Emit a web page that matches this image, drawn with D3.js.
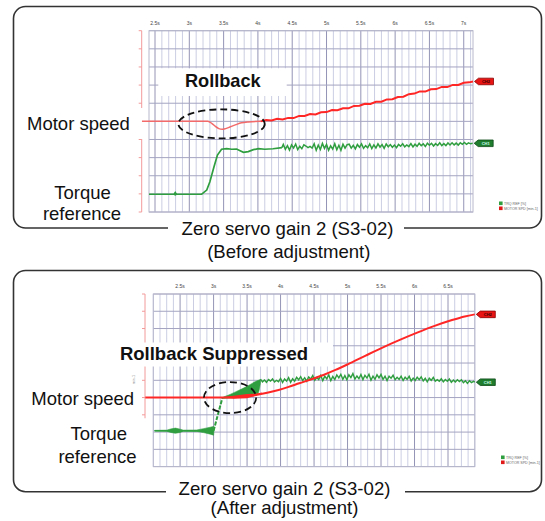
<!DOCTYPE html>
<html><head><meta charset="utf-8">
<script src="https://cdn.jsdelivr.net/npm/d3@7"></script>
<style>
html,body{margin:0;padding:0;background:#fff;}
svg{display:block;font-family:"Liberation Sans",Arial,Helvetica,sans-serif;}
</style></head><body>
<svg id="c" width="545" height="521"></svg>
<script>
// ---------------- DATA ----------------
const topTicks = [2.5, 3, 3.5, 4, 4.5, 5, 5.5, 6, 6.5, 7];
const topTickLabels = ["2.5s","3s","3.5s","4s","4.5s","5s","5.5s","6s","6.5s","7s"];
const botTicks = [2.5, 3, 3.5, 4, 4.5, 5, 5.5, 6, 6.5];
const botTickLabels = ["2.5s","3s","3.5s","4s","4.5s","5s","5.5s","6s","6.5s"];
const legendNames = ["TRQ REF [%]", "MOTOR SPD [min-1]"];
const tagNames = ["CH1", "CH2"];

// Before adjustment: motor speed (divisions) vs time (s)
const topSpeedFlat = [[2.31,5.0],[3.27,5.0],[3.33,4.88],[3.38,4.72],[3.43,4.60],[3.48,4.56],[3.53,4.60],
  [3.60,4.70],[3.68,4.82],[3.76,4.92],[3.86,4.97],[4.04,5.0]];
const topSpeedRise = [[4.04,5.00],[4.12,5.07],[4.20,5.05],[4.28,5.14],[4.36,5.10],[4.44,5.19],[4.52,5.18],
  [4.60,5.30],[4.68,5.30],[4.76,5.40],[4.84,5.38],[4.92,5.50],[5.00,5.51],[5.08,5.62],[5.16,5.61],
  [5.24,5.72],[5.32,5.72],[5.40,5.85],[5.48,5.86],[5.56,5.97],[5.64,5.96],[5.72,6.08],[5.80,6.08],
  [5.88,6.21],[5.96,6.22],[6.04,6.34],[6.12,6.36],[6.20,6.50],[6.28,6.53],[6.36,6.65],[6.44,6.64],
  [6.52,6.77],[6.60,6.78],[6.68,6.90],[6.76,6.89],[6.84,7.01],[6.92,7.01],[7.00,7.13],[7.08,7.15],[7.135,7.20]];
// Before adjustment: torque reference
const topTorque = [[2.4125,0.98],[2.78,0.98],[2.795,1.07],[2.81,0.98],[3.18,0.98],[3.254,1.21],[3.30,1.67],
  [3.36,2.50],[3.41,3.14],[3.47,3.46],[3.545,3.49],[3.618,3.46],[3.69,3.47],[3.74,3.38],[3.789,3.29],
  [3.86,3.33],[3.934,3.44],[4.007,3.49],[4.10,3.46],[4.22,3.49],[4.35,3.55]];
const topNoiseStart = 4.37, noiseStep = 0.03;
const topTorqueNoise = [3.73,3.46,3.66,3.41,3.70,3.53,3.75,3.44,3.62,3.49,3.71,
  3.64,3.55,3.62,3.53,
  3.76,3.40,3.69,3.45,3.78,3.51,3.73,3.41,3.65,3.47,3.77,3.43,3.68,3.40,3.74,3.52,3.71,
  3.74,3.52,3.68,3.48,3.72,3.57,3.76,3.51,3.66,3.54,3.75,3.50,3.70,3.53,3.76,3.58,3.72,3.51,3.75,3.60,
  3.72,3.57,3.69,3.55,3.73,3.63,3.76,3.59,3.70,3.61,3.77,3.59,3.74,3.62,3.79,3.66,3.76,3.61,3.79,3.68,
  3.79,3.64,3.77,3.67,3.82,3.66,3.77,3.66,3.81,3.70,3.82,3.70,3.80,3.69,3.82,3.73,3.83,3.73,3.81,3.76,3.79];

// After adjustment: motor speed
const botSpeed = [[1.98,4.0],[3.1,4.0],[3.3,4.02],[3.5,4.08],[3.63,4.15],[3.8,4.28],[3.97,4.44],[4.12,4.62],
  [4.28,4.83],[4.46,5.06],[4.64,5.31],[4.82,5.6],[5.01,5.94],[5.27,6.43],[5.53,6.91],[5.78,7.34],
  [6.04,7.76],[6.3,8.15],[6.56,8.49],[6.75,8.7],[6.9,8.82]];
const botSpeedBand = [[3.1,4.0,4.0],[3.3,3.93,4.1],[3.5,3.96,4.2],[3.63,4.1,4.22],[3.72,4.25,4.3]];
// After adjustment: torque reference [t, low, high]
const botTorqueFlat = [[2.12,2.06,2.10],[2.3,2.05,2.11],[2.36,1.98,2.18],[2.43,1.93,2.23],[2.5,1.98,2.17],
  [2.55,2.05,2.11],[2.75,2.04,2.12],[2.85,1.97,2.20],[2.95,1.88,2.28],[3.0,1.82,2.33],[3.005,2.06,2.10]];
const botTorqueJump = [[3.0,2.08],[3.13,3.96]];
const botTorqueWedge = [[3.13,3.95,4.0],[3.246,3.98,4.18],[3.366,4.02,4.4],[3.485,4.06,4.62],
  [3.575,4.1,4.82],[3.634,4.14,4.95],[3.67,4.3,5.0],[3.70,4.85,5.04]];
const botNoiseStart = 3.70;
const botTorqueNoise = [5.07,4.91,5.02,4.88,5.04,4.95,5.08,4.90,5.00,4.92,
  5.11,4.87,5.08,4.95,5.16,4.88,5.09,4.95,5.17,5.03,
  5.21,4.98,5.15,4.95,5.19,5.07,5.27,5.00,5.16,5.04,
  5.28,4.98,5.24,5.08,5.32,4.98,5.22,5.04,5.31,5.14,
  5.35,5.06,5.27,5.03,5.32,5.16,5.39,5.07,5.25,5.09,
  5.34,5.04,5.29,5.13,5.35,5.01,5.24,5.06,5.32,5.14,
  5.34,5.05,5.24,4.99,5.24,5.12,5.29,5.03,5.17,5.05,
  5.24,4.99,5.18,5.05,5.23,4.96,5.13,4.99,5.18,5.04,
  5.20,4.96,5.12,4.91,5.12,5.00,5.17,4.95,5.04,4.95,
  5.09,4.91,5.05,4.95,5.08,4.88,5.01,4.90,5.03,4.93,
  5.03,4.86,4.97,4.82,4.97,4.87,4.94];
const botTorqueEnd = [6.9, 4.89];

// ---------------- DRAWING ----------------
const svg = d3.select("#c");
const RED = "#ff2626", PINK = "#f26a6a", GREEN = "#2f9e3f";

function panel(p) {
  const x = d3.scaleLinear().domain(p.tDomain).range([p.left, p.right]);
  const y = d3.scaleLinear().domain([0, 10]).range([p.bottom, p.top]);
  const g = svg.append("g");

  g.append("rect").attr("x", 13.5).attr("y", p.boxTop).attr("width", 528).attr("height", p.boxBottom - p.boxTop)
    .attr("rx", 12).attr("fill", "none").attr("stroke", "#333").attr("stroke-width", 1.6);

  const minor = d3.range(Math.ceil(p.tDomain[0] * 10), Math.floor(p.tDomain[1] * 10) + 1).map(d => d / 10)
    .filter(t => Math.abs(t * 2 - Math.round(t * 2)) > 1e-6);
  g.selectAll(null).data(minor).join("line")
    .attr("x1", d => x(d)).attr("x2", d => x(d)).attr("y1", p.top).attr("y2", p.bottom)
    .attr("stroke", "#cbcee3").attr("stroke-width", 1);
  g.selectAll(null).data(p.ticks).join("line")
    .attr("x1", d => x(d)).attr("x2", d => x(d)).attr("y1", p.top).attr("y2", p.bottom)
    .attr("stroke", "#9494b6").attr("stroke-width", 1);
  g.selectAll(null).data(d3.range(0, 11)).join("line")
    .attr("x1", p.left).attr("x2", p.right).attr("y1", d => y(d)).attr("y2", d => y(d))
    .attr("stroke", "#a4a4c2").attr("stroke-width", 1);
  g.append("rect").attr("x", p.left).attr("y", p.top).attr("width", p.right - p.left).attr("height", p.bottom - p.top)
    .attr("fill", "none").attr("stroke", "#b8b8cc").attr("stroke-width", 1);

  g.selectAll(null).data(p.ticks).join("text")
    .attr("x", d => x(d)).attr("y", p.labelY).attr("text-anchor", "middle")
    .attr("font-size", 5).attr("fill", "#444").text((d, i) => p.tickLabels[i]);

  g.append("line").attr("x1", p.axisX).attr("x2", p.axisX).attr("y1", y(10)).attr("y2", y(p.axisEnd))
    .attr("stroke", "#f39a9a").attr("stroke-width", 1);
  g.selectAll(null).data(d3.range(Math.ceil(p.axisEnd), 11)).join("line")
    .attr("x1", p.axisX - 3).attr("x2", p.axisX).attr("y1", d => y(d)).attr("y2", d => y(d))
    .attr("stroke", "#f39a9a").attr("stroke-width", 1);

  [GREEN, "#e01818"].forEach((c, i) => {
    g.append("rect").attr("x", p.legX).attr("y", p.legY + i * 5).attr("width", 3.6).attr("height", 3.6).attr("fill", c);
    g.append("text").attr("x", p.legX + 5).attr("y", p.legY + i * 5 + 3.3).attr("font-size", 3.6)
      .attr("fill", "#666").text(legendNames[i]);
  });
  return { x, y, g };
}

function tag(g, xt, yc, fill, stroke, txtFill, label) {
  g.append("path").attr("d", `M${xt},${yc} L${xt + 4},${yc - 3.3} L${xt + 19},${yc - 3.3} L${xt + 19},${yc + 3.3} L${xt + 4},${yc + 3.3} Z`)
    .attr("fill", fill).attr("stroke", stroke).attr("stroke-width", 0.8);
  g.append("text").attr("x", xt + 11.5).attr("y", yc + 1.5).attr("text-anchor", "middle").attr("font-size", 4)
    .attr("font-weight", "bold").attr("fill", txtFill).text(label);
}

function whiteBox(g, x0, y0, x1, y1) {
  g.append("rect").attr("x", x0).attr("y", y0).attr("width", x1 - x0).attr("height", y1 - y0).attr("fill", "#fff");
}
function label(g, txt, x, yb, opts = {}) {
  g.append("text").attr("x", x).attr("y", yb).attr("text-anchor", opts.anchor || "middle")
    .attr("font-size", opts.size || 18.5).attr("font-weight", opts.bold ? "bold" : "normal")
    .attr("fill", "#111").text(txt);
}

// ======== TOP PANEL (before adjustment) ========
{
  const P = panel({ tDomain: [2.4125, 7.135], left: 149, right: 473, top: 30.7, bottom: 212,
    ticks: topTicks, tickLabels: topTickLabels, labelY: 25, axisX: 141.7, axisEnd: 0,
    boxTop: 6.5, boxBottom: 228, legX: 499, legY: 201.5 });
  const { x, y, g } = P;
  whiteBox(g, 18, 108, 146, 139);
  whiteBox(g, 158.3, 68.3, 286.7, 96);
  whiteBox(g, 168, 222, 404, 262);

  const line = d3.line().x(d => x(d[0])).y(d => y(d[1]));
  g.append("path").attr("d", line(topTorque)).attr("fill", "none").attr("stroke", GREEN).attr("stroke-width", 1.7);
  g.append("circle").attr("cx", x(2.795)).attr("cy", y(0.98)).attr("r", 1.4).attr("fill", GREEN);
  const tn = topTorqueNoise.map((v, i) => [topNoiseStart + i * noiseStep, v]);
  g.append("path").attr("d", line([topTorque[topTorque.length - 1], ...tn])).attr("fill", "none")
    .attr("stroke", GREEN).attr("stroke-width", 1.5);
  g.append("path").attr("d", d3.line().x(d => x(d[0])).y(d => y(d[1])).curve(d3.curveMonotoneX)(topSpeedFlat))
    .attr("fill", "none").attr("stroke", PINK).attr("stroke-width", 1.5);
  g.append("path").attr("d", line(topSpeedRise)).attr("fill", "none").attr("stroke", RED).attr("stroke-width", 2);

  const rEnd = topSpeedRise[topSpeedRise.length - 1], gEnd = tn[tn.length - 1];
  tag(g, x(rEnd[0]) + 1.5, y(rEnd[1]), "#e81414", "#8a0000", "#300", tagNames[1]);
  tag(g, x(gEnd[0]) + 1.5, y(gEnd[1]), "#1f7d2e", "#0d4a18", "#cfe", tagNames[0]);

  g.append("ellipse").attr("cx", x(3.47)).attr("cy", y(4.86)).attr("rx", x(3.47 + 0.63) - x(3.47))
    .attr("ry", y(4.86) - y(4.86 + 0.8)).attr("fill", "none").attr("stroke", "#111")
    .attr("stroke-width", 1.8).attr("stroke-dasharray", "7,4");

  label(g, "Rollback", 222.8, 87.3, { bold: true, size: 18.2 });
  label(g, "Motor speed", 27, 130, { anchor: "start" });
  label(g, "Torque", 82.5, 199);
  label(g, "reference", 82, 219.5);
  label(g, "Zero servo gain 2 (S3-02)", 287.5, 235, { size: 18.6 });
  label(g, "(Before adjustment)", 288.8, 258, { size: 18.6 });
}

// ======== BOTTOM PANEL (after adjustment) ========
{
  const P = panel({ tDomain: [2.1, 6.9], left: 153.3, right: 474.8, top: 294, bottom: 466.6,
    ticks: botTicks, tickLabels: botTickLabels, labelY: 288, axisX: 145, axisEnd: 2.8,
    boxTop: 270.5, boxBottom: 491.7, legX: 501, legY: 455.5 });
  const { x, y, g } = P;
  whiteBox(g, 115, 342.5, 333, 366.5);
  whiteBox(g, 166, 484, 405, 521);
  g.append("text").attr("transform", "translate(135,384) rotate(-90)").attr("font-size", 3.6)
    .attr("fill", "#888").text("min-1");

  const line = d3.line().x(d => x(d[0])).y(d => y(d[1]));
  const area = d3.area().x(d => x(d[0])).y0(d => y(d[1])).y1(d => y(d[2]));
  g.append("path").attr("d", area(botTorqueFlat)).attr("fill", GREEN).attr("stroke", GREEN).attr("stroke-width", 0.6);
  g.append("path").attr("d", line(botTorqueFlat.map(d => [d[0], (d[1] + d[2]) / 2])))
    .attr("fill", "none").attr("stroke", GREEN).attr("stroke-width", 1.4);
  g.append("path").attr("d", line(botTorqueJump)).attr("fill", "none").attr("stroke", GREEN)
    .attr("stroke-width", 2).attr("stroke-dasharray", "4,1.5");
  g.append("path").attr("d", area.curve(d3.curveMonotoneX)(botTorqueWedge)).attr("fill", GREEN)
    .attr("stroke", GREEN).attr("stroke-width", 0.6);
  const bn = botTorqueNoise.map((v, i) => [botNoiseStart + i * noiseStep, v]);
  g.append("path").attr("d", line([...bn, botTorqueEnd])).attr("fill", "none")
    .attr("stroke", GREEN).attr("stroke-width", 1.4);
  g.append("path").attr("d", d3.area().x(d => x(d[0])).y0(d => y(d[1])).y1(d => y(d[2]))(botSpeedBand)).attr("fill", RED);
  g.append("path").attr("d", d3.line().x(d => x(d[0])).y(d => y(d[1])).curve(d3.curveMonotoneX)(botSpeed))
    .attr("fill", "none").attr("stroke", RED).attr("stroke-width", 2);

  const rEnd = botSpeed[botSpeed.length - 1];
  tag(g, x(rEnd[0]) + 1.5, y(rEnd[1]), "#e81414", "#8a0000", "#300", tagNames[1]);
  tag(g, x(botTorqueEnd[0]) + 1.5, y(botTorqueEnd[1]), "#1f7d2e", "#0d4a18", "#cfe", tagNames[0]);

  g.append("ellipse").attr("cx", x(3.246)).attr("cy", y(4.0)).attr("rx", x(3.246 + 0.39) - x(3.246))
    .attr("ry", y(4.0) - y(4.0 + 0.9)).attr("fill", "none").attr("stroke", "#111")
    .attr("stroke-width", 1.8).attr("stroke-dasharray", "7,4");

  label(g, "Rollback Suppressed", 214, 360, { bold: true, size: 18.5 });
  label(g, "Motor speed", 31.3, 404.5, { anchor: "start" });
  label(g, "Torque", 98.7, 440);
  label(g, "reference", 97.5, 463);
  label(g, "Zero servo gain 2 (S3-02)", 284.5, 494.5, { size: 18.6 });
  label(g, "(After adjustment)", 284.5, 514, { size: 18.6 });
}
</script>
</body></html>
